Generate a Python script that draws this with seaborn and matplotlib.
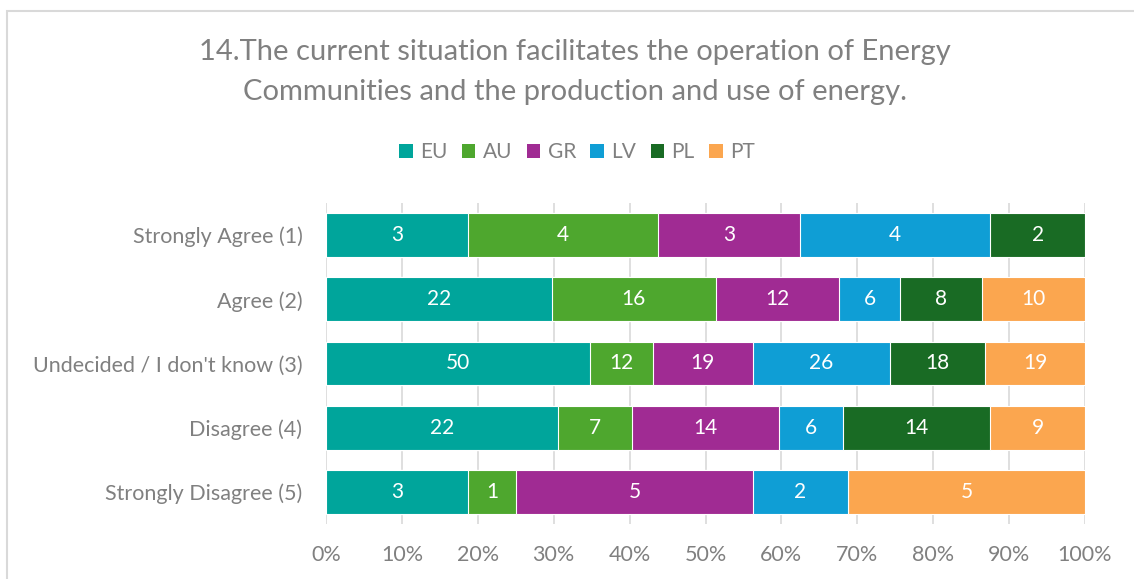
import numpy as np
import pandas as pd
import seaborn as sns
import matplotlib.pyplot as plt
from matplotlib.patches import Rectangle, Patch

# answers, top to bottom
answers = ["Strongly Agree (1)", "Agree (2)", "Undecided / I don't know (3)",
           "Disagree (4)", "Strongly Disagree (5)"]
countries = ["EU", "AU", "GR", "LV", "PL", "PT"]

eu = [3, 22, 50, 22, 3]
au = [4, 16, 12, 7, 1]
gr = [3, 12, 19, 14, 5]
lv = [4, 6, 26, 6, 2]
pl = [2, 8, 18, 14, 0]
pt = [0, 10, 19, 9, 5]

colors = ["#00A59B", "#4EA72E", "#A02B93", "#0F9ED5", "#196B24", "#FBA64F"]

title = ("14.The current situation facilitates the operation of Energy\n"
         "Communities and the production and use of energy.")

df = pd.DataFrame({"EU": eu, "AU": au, "GR": gr, "LV": lv, "PL": pl, "PT": pt},
                  index=answers)
pct = df.div(df.sum(axis=1), axis=0) * 100
cum = pct.cumsum(axis=1)

sns.set_theme(style="white")
plt.rcParams['font.family'] = ['Lato', 'DejaVu Sans']
grey = "#808080"

fig = plt.figure(figsize=(11.34, 5.79), dpi=100)
ax = fig.add_axes([0.2875, 0.095, 0.6693, 0.5544])

# stacked bars: draw cumulative totals from the widest down
for c, col in reversed(list(zip(countries, colors))):
    sns.barplot(x=cum[c].values, y=answers, orient="h", color=col,
                width=0.68, edgecolor="white", linewidth=0.8, ax=ax,
                saturation=1, zorder=3)

# value labels in the middle of each segment
for i, a in enumerate(answers):
    for c in countries:
        v = df.loc[a, c]
        if v == 0:
            continue
        xm = cum.loc[a, c] - pct.loc[a, c] / 2
        ax.text(xm, i, str(v), ha="center", va="center", color="white",
                fontsize=15, zorder=4)

ax.set_xlim(0, 100)
ax.set_ylim(4.5, -0.5)
ax.set_xticks(np.arange(0, 101, 10))
ax.set_xticklabels([f"{t}%" for t in range(0, 101, 10)])
ax.xaxis.grid(True, color="#D9D9D9", linewidth=1.2, zorder=0)
ax.yaxis.grid(False)
ax.set_axisbelow(True)
for s in ax.spines.values():
    s.set_visible(False)
ax.tick_params(axis="both", length=0, labelsize=15.5, labelcolor=grey)
ax.tick_params(axis="y", pad=17)
ax.tick_params(axis="x", pad=15)
ax.set_xlabel("")
ax.set_ylabel("")

fig.text(575 / 1134, 1 - 72 / 579, title, ha="center", va="center",
         fontsize=21, color=grey, linespacing=1.62)

handles = [Patch(facecolor=col, edgecolor="none") for col in colors]
fig.legend(handles, countries, loc="center", bbox_to_anchor=(577 / 1134, 1 - 152 / 579),
           ncol=6, frameon=False, fontsize=15, labelcolor=grey,
           handlelength=0.65, handleheight=0.65, handletextpad=0.35, columnspacing=0.7)

# chart border (runs off right and bottom)
fig.patches.append(Rectangle((7 / 1134, -0.05), 1.1, 1 - 11 / 579 + 0.05,
                             transform=fig.transFigure, fill=False,
                             edgecolor="#D9D9D9", linewidth=1.5))

fig.savefig("out.png", dpi=100)
